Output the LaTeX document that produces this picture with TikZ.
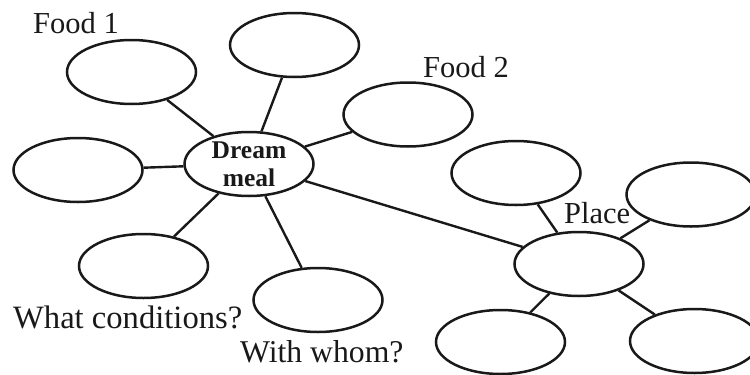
\documentclass[tikz,border=0pt]{standalone}
\usepackage{fontspec}
\setmainfont{Liberation Serif}
\usetikzlibrary{shapes.geometric}
\begin{document}
\begin{tikzpicture}[x=1pt,y=-1pt,
  bubble/.style={draw=black!90, line width=2.5pt, ellipse, minimum width=129pt, minimum height=64pt, inner sep=0pt},
  link/.style={draw=black!90, line width=2.4pt},
  lbl/.style={inner sep=0pt, font=\fontsize{30.5}{34}\selectfont, text=black!90},
  biglbl/.style={lbl, font=\fontsize{32}{36}\selectfont},
  center/.style={inner sep=0pt, align=center, font=\fontsize{25.5}{28}\selectfont\bfseries, text=black!90}]
\useasboundingbox (0,0) rectangle (750,375);
% bubbles
\node[bubble] (dream) at (249,164) {};
\node[center] (dreamtext) at (249,164) {Dream\\meal};
\node[bubble] (food1) at (131.5,72) {};
\node[bubble] (topmid) at (294.5,45) {};
\node[bubble] (left) at (78,170) {};
\node[bubble] (food2) at (408,114.5) {};
\node[bubble] (cond) at (143.5,266) {};
\node[bubble] (whom) at (318,300) {};
\node[bubble] (place) at (579,264) {};
\node[bubble] (ptop) at (516,173) {};
\node[bubble] (pright) at (691,194.5) {};
\node[bubble] (pbl) at (500.5,342) {};
\node[bubble] (pbr) at (694.5,341) {};
% connectors
\draw[link] (food1) -- (dream);
\draw[link] (topmid) -- (dream);
\draw[link] (left) -- (dream);
\draw[link] (food2) -- (dream);
\draw[link] (cond) -- (dream);
\draw[link] (whom) -- (dream);
\draw[link] (dream) -- (place);
\draw[link] (ptop) -- (place);
\draw[link] (pright) -- (place);
\draw[link] (pbl) -- (place);
\draw[link] (pbr) -- (place);
% labels
\node[lbl, anchor=base west] (lfood1) at (33,33) {Food 1};
\node[lbl, anchor=base west] (lfood2) at (423,77) {Food 2};
\node[lbl, anchor=base west] (lplace) at (564,223) {Place};
\node[biglbl, font=\fontsize{32.6}{36}\selectfont, anchor=base west] (lcond) at (13,328) {What conditions?};
\node[biglbl, font=\fontsize{31.7}{36}\selectfont, anchor=base west] (lwhom) at (240,362) {With whom?};
\end{tikzpicture}
\end{document}
